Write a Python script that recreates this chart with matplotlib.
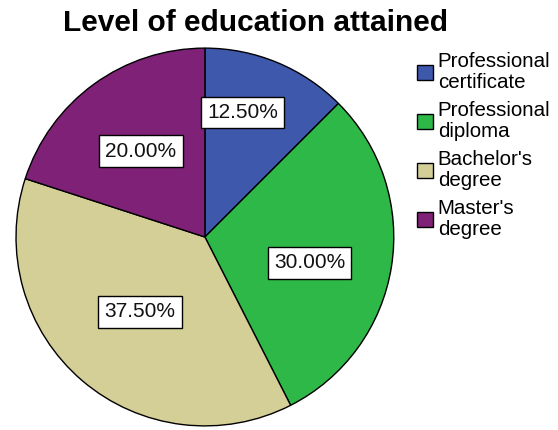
import numpy as np
import matplotlib.pyplot as plt

# data
categories = ['Professional\ncertificate', 'Professional\ndiploma', "Bachelor's\ndegree", "Master's\ndegree"]
percents = [12.5, 30.0, 37.5, 20.0]
colors = ['#3E58AC', '#2EB848', '#D4CE97', '#7E2177']

# where SPSS put each label: fraction of radius, and degrees off the slice middle
label_dist = [0.69, 0.57, 0.525, 0.567]
label_turn = [5.6, -4.9, -0.4, 0.7]

plt.rcParams['font.family'] = ['Liberation Sans', 'DejaVu Sans']

fig = plt.figure(figsize=(5.58, 4.30), dpi=100)
ax = fig.add_axes([0.0287, 0.0093, 0.677, 0.879])

wedges, texts, autotexts = ax.pie(
    percents, colors=colors, startangle=90, counterclock=False,
    autopct='%.2f%%', pctdistance=0.6,
    wedgeprops=dict(edgecolor='black', linewidth=1.0),
    textprops=dict(fontsize=15, color='#111111'))
for w, t, d, turn in zip(wedges, autotexts, label_dist, label_turn):
    mid = np.deg2rad((w.theta1 + w.theta2) / 2 + turn)
    t.set_position((d * np.cos(mid), d * np.sin(mid)))
    t.set_bbox(dict(boxstyle='square,pad=0.3', facecolor='white',
                    edgecolor='black', linewidth=1.0))
ax.set_xlim(-1.0, 1.0)
ax.set_ylim(-1.0, 1.0)
ax.set_aspect('equal')

fig.text(0.457, 0.947, 'Level of education attained', ha='center', va='center',
         fontsize=21.5, fontweight='bold')

leg = fig.legend(wedges, categories, loc='upper left', bbox_to_anchor=(0.733, 0.898),
                 frameon=False, fontsize=14.8, handlelength=0.75, handleheight=0.75,
                 handletextpad=0.25, labelspacing=0.45, borderaxespad=0)
for t in leg.get_texts():
    t.set_linespacing(1.12)

fig.savefig('out.png', dpi=100)
